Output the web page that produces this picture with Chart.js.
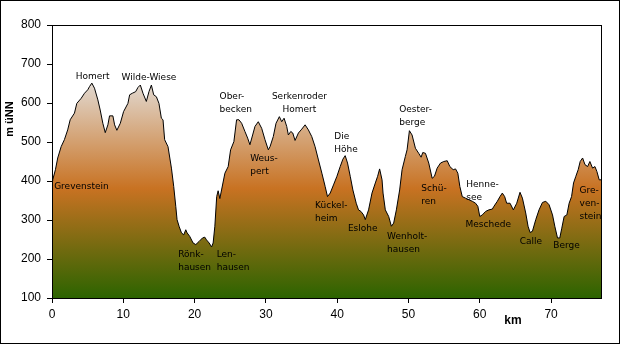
<!DOCTYPE html>
<html>
<head>
<meta charset="utf-8">
<script src="https://cdn.jsdelivr.net/npm/chart.js@4/dist/chart.umd.min.js"></script>
<style>
  html, body { margin: 0; padding: 0; background: #ffffff; }
  #wrap { width: 620px; height: 344px; }
</style>
</head>
<body>
<div id="wrap"><canvas id="c" width="620" height="344"></canvas></div>
<script>
// Distance along the route (km)
const kmValues = [
  0, 0.1, 0.48, 0.8, 1.28, 1.74, 2.2, 2.55, 3.15, 3.48, 4.09, 4.56, 5.02, 5.26, 5.59, 5.96,
  6.43, 6.76, 7.13, 7.47, 7.84, 8.07, 8.54, 8.78, 9.1, 9.58, 10.04, 10.65, 10.89, 11.26, 11.73,
  12.06, 12.39, 12.76, 13.23, 13.6, 13.94, 14.26, 14.64, 15.0, 15.34, 15.57, 15.8, 16.27, 16.75,
  17.07, 17.36, 17.54, 17.82, 18.16, 18.48, 18.76, 18.95, 19.32, 19.79, 20.17, 20.63, 21.11,
  21.43, 21.67, 22.04, 22.38, 22.6, 22.84, 23.1, 23.3, 23.54, 23.78, 24.25, 24.71, 25.05, 25.51,
  25.89, 26.22, 26.6, 27.06, 27.44, 27.76, 28.14, 28.47, 28.93, 29.41, 29.87, 30.34, 30.58,
  31.04, 31.42, 31.89, 32.22, 32.55, 32.92, 33.15, 33.49, 33.77, 34.09, 34.56, 35.03, 35.5,
  35.96, 36.43, 36.9, 37.37, 37.85, 38.31, 38.64, 39.02, 39.48, 39.96, 40.42, 40.8, 41.12,
  41.45, 41.83, 42.2, 42.67, 42.99, 43.33, 43.7, 43.94, 44.4, 44.88, 45.35, 45.67, 45.95,
  46.29, 46.43, 46.75, 47.22, 47.6, 47.92, 48.3, 48.76, 49.1, 49.56, 49.8, 50.13, 50.5, 50.97,
  51.43, 51.77, 52.0, 52.38, 52.84, 53.32, 53.64, 54.02, 54.49, 54.95, 55.43, 55.8, 56.27,
  56.6, 56.92, 57.2, 57.54, 58.0, 58.47, 58.95, 59.41, 59.73, 60.0, 60.35, 60.82, 61.28, 61.76,
  61.98, 62.46, 62.83, 63.16, 63.49, 63.77, 64.24, 64.71, 65.18, 65.64, 65.98, 66.44, 66.77,
  67.05, 67.38, 67.85, 68.31, 68.79, 69.26, 69.72, 70.2, 70.52, 70.9, 71.22, 71.5, 71.83,
  72.21, 72.53, 72.87, 73.15, 73.47, 73.8, 74.08, 74.42, 74.75, 75.12, 75.44, 75.82, 76.15,
  76.43, 76.75, 77.0
];
// Elevation (m üNN)
const elevationValues = [
  400, 403, 429, 459, 488, 506, 531, 557, 574, 599, 612, 625, 634, 642, 651, 638,
  608, 582, 548, 524, 544, 567, 567, 544, 530, 548, 578, 599, 621, 625, 629,
  640, 646, 625, 604, 629, 646, 621, 616, 599, 561, 557, 506, 488, 433,
  386, 335, 301, 284, 267, 262, 275, 267, 258, 241, 237, 245, 254,
  256, 249, 241, 231, 241, 284, 360, 375, 355, 377, 420, 437, 480, 501,
  557, 557, 548, 527, 510, 493, 518, 540, 552, 535, 506, 480, 488,
  514, 548, 565, 552, 561, 540, 518, 527, 523, 504, 523, 533, 544,
  531, 514, 488, 454, 420, 386, 360, 369, 390, 412, 437, 456, 465,
  446, 412, 377, 343, 326, 322, 313, 301, 326, 369, 395, 412, 431,
  403, 369, 326, 309, 284, 292, 326, 377, 429, 463, 480, 529, 518, 484,
  471, 461, 473, 471, 446, 407, 412, 433, 446, 450, 452, 437, 429,
  431, 420, 386, 360, 356, 352, 348, 343, 335, 309, 313, 322, 326, 328,
  335, 348, 360, 369, 360, 343, 343, 326, 343, 371, 356, 318, 284,
  268, 271, 301, 326, 345, 348, 339, 313, 284, 254, 254, 279, 309,
  313, 343, 360, 395, 412, 429, 450, 459, 442, 437, 450, 433, 437,
  424, 403, 403
];
// Axis ticks
const xTickValues = [0, 10, 20, 30, 40, 50, 60, 70];
const yTickValues = [100, 200, 300, 400, 500, 600, 700, 800];
// Place names (text annotations) anchored at km / elevation
const placeNames = [
  "Grevenstein", "Homert", "Wilde-Wiese", "Ober-\nbecken", "Serkenroder\nHomert", "Weus-\npert",
  "Die\nHöhe", "Rönk-\nhausen", "Len-\nhausen", "Kückel-\nheim", "Eslohe", "Wenholt-\nhausen",
  "Oester-\nberge", "Schü-\nren", "Henne-\nsee", "Meschede", "Calle", "Berge", "Gre-\nven-\nstein"
];
const placeKm = [0.3, 5.7, 13.6, 23.5, 34.7, 27.8, 39.6, 17.7, 23.1, 36.9, 41.5, 47.0, 48.7, 51.8, 58.1, 58.0, 65.6, 70.3, 74.0];
const placeElev = [385, 667, 664, 616, 616, 457, 513, 211, 211, 336, 278, 257, 582, 380, 390, 288, 244, 234, 375];
const placeAlign = ["left", "center", "center", "left", "center", "left", "left", "left", "left", "left", "left", "left", "left", "left", "left", "left", "left", "left", "left"];

const points = kmValues.map((k, i) => ({ x: k, y: elevationValues[i] }));

const decorPlugin = {
  id: 'decor',
  beforeDraw(chart) {
    const c = chart.ctx;
    c.save();
    c.fillStyle = '#ffffff';
    c.fillRect(0, 0, chart.width, chart.height);
    c.restore();
  },
  afterDatasetsDraw(chart) {
    const c = chart.ctx;
    const xs = chart.scales.x, ys = chart.scales.y;
    c.save();
    c.fillStyle = '#000000';
    c.font = '9px "DejaVu Sans"';
    c.textBaseline = 'middle';
    placeNames.forEach((name, i) => {
      const px = xs.getPixelForValue(placeKm[i]);
      const py = ys.getPixelForValue(placeElev[i]);
      c.textAlign = placeAlign[i];
      name.split('\n').forEach((line, j) => {
        c.fillText(line, px, py + j * 13);
      });
    });
    c.restore();
  },
  afterDraw(chart) {
    const c = chart.ctx;
    const a = chart.chartArea;
    c.save();
    c.strokeStyle = '#000000';
    c.lineWidth = 1;
    c.strokeRect(Math.round(a.left) + 0.5, Math.round(a.top) + 0.5, Math.round(a.right - a.left), Math.round(a.bottom - a.top));
    c.strokeRect(0.5, 0.5, chart.width - 1, chart.height - 1);
    // axis titles
    c.fillStyle = '#000000';
    c.font = 'bold 11px "Liberation Sans"';
    c.textAlign = 'center';
    c.textBaseline = 'middle';
    c.save();
    c.translate(10, 119);
    c.rotate(-Math.PI / 2);
    c.fillText('m üNN', 0, 0);
    c.restore();
    c.font = 'bold 12px "Liberation Sans"';
    c.fillText('km', 513, 321);
    c.restore();
  }
};

new Chart(document.getElementById('c'), {
  type: 'line',
  data: {
    datasets: [{
      data: points,
      borderColor: '#000000',
      borderWidth: 1,
      pointRadius: 0,
      tension: 0,
      fill: 'start',
      backgroundColor: (ctx) => {
        const chart = ctx.chart;
        const a = chart.chartArea;
        if (!a) return '#c87222';
        const g = chart.ctx.createLinearGradient(0, a.top, 0, a.bottom);
        g.addColorStop(0.0, '#f6f4f2');
        g.addColorStop(0.2, '#e2dcd6');
        g.addColorStop(0.6, '#c87222');
        g.addColorStop(1.0, '#2c6400');
        return g;
      }
    }]
  },
  options: {
    responsive: false,
    animation: false,
    layout: { padding: { top: 25, right: 19, bottom: 0, left: 0 } },
    plugins: { legend: { display: false }, tooltip: { enabled: false } },
    scales: {
      x: {
        type: 'linear',
        min: 0, max: 77,
        afterFit: (s) => { s.height = 46; },
        afterBuildTicks: (s) => { s.ticks = xTickValues.map(v => ({ value: v })); },
        ticks: { color: '#000000', font: { family: 'Liberation Sans', size: 12 }, padding: 4, maxRotation: 0 },
        grid: { display: true, drawOnChartArea: false, drawTicks: true, tickLength: 5, tickColor: '#000000', color: '#000000' },
        border: { display: true, color: '#000000', width: 1 }
      },
      y: {
        min: 100, max: 800,
        afterFit: (s) => { s.width = 52; },
        afterBuildTicks: (s) => { s.ticks = yTickValues.map(v => ({ value: v })); },
        ticks: { color: '#000000', font: { family: 'Liberation Sans', size: 12 }, padding: 6 },
        grid: { display: true, drawOnChartArea: false, drawTicks: true, tickLength: 5, tickColor: '#000000', color: '#000000' },
        border: { display: true, color: '#000000', width: 1 }
      }
    }
  },
  plugins: [decorPlugin]
});
</script>
</body>
</html>
